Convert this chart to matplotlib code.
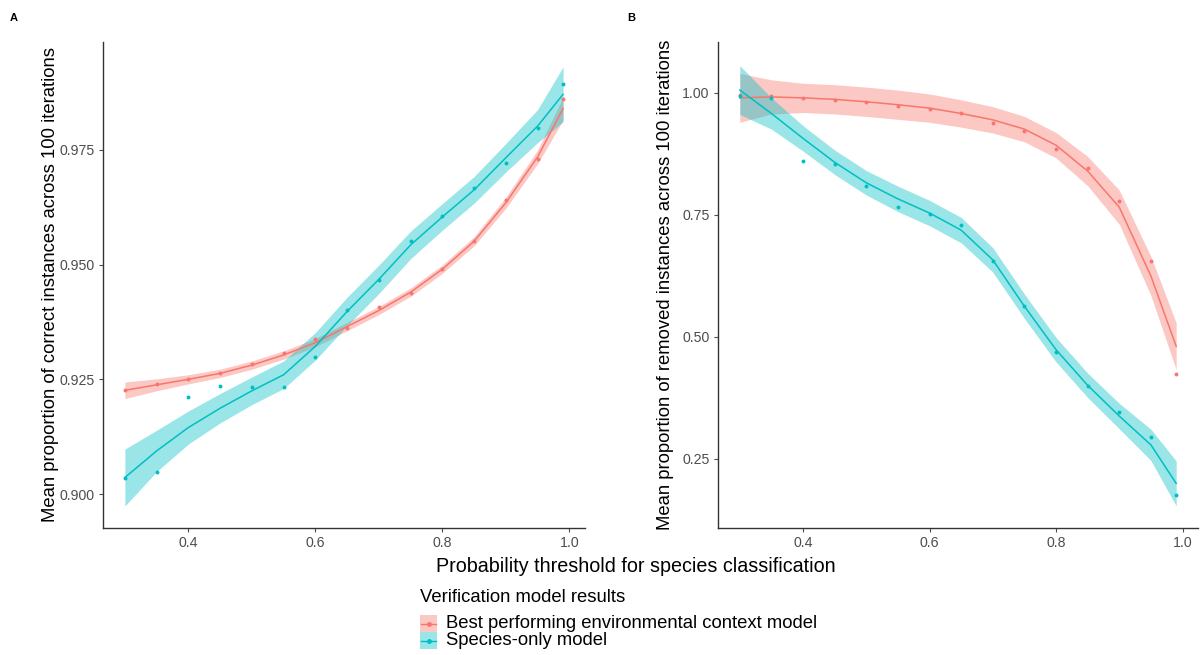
import numpy as np
import matplotlib
matplotlib.use("Agg")
import matplotlib.pyplot as plt
from matplotlib.patches import Rectangle
from matplotlib.lines import Line2D

plt.rcParams['font.family'] = ['Liberation Sans', 'DejaVu Sans']

RED = '#F8766D'
CYAN = '#00BFC4'

threshold = [0.30, 0.35, 0.40, 0.45, 0.50, 0.55, 0.60, 0.65, 0.70, 0.75, 0.80, 0.85, 0.90, 0.95, 0.99]

# panel A: mean proportion of correct instances
correct_env = [0.9226, 0.9239, 0.9250, 0.9264, 0.9283, 0.9308, 0.9337, 0.9361, 0.9407, 0.9438,
               0.9491, 0.9551, 0.9640, 0.9730, 0.9861]
correct_env_fit = [0.9226, 0.9238, 0.9250, 0.9263, 0.9281, 0.9303, 0.9330, 0.9365, 0.9400, 0.9440,
                   0.9490, 0.9551, 0.9635, 0.9735, 0.9840]
correct_env_se = [0.0018, 0.0013, 0.0010, 0.0009, 0.0009, 0.0009, 0.0009, 0.0009, 0.0009, 0.0009,
                  0.0009, 0.0010, 0.0012, 0.0015, 0.0025]
correct_sp = [0.9036, 0.9049, 0.9212, 0.9236, 0.9233, 0.9234, 0.9299, 0.9401, 0.9466, 0.9552,
              0.9605, 0.9667, 0.9721, 0.9797, 0.9894]
correct_sp_fit = [0.9036, 0.9094, 0.9145, 0.9187, 0.9225, 0.9260, 0.9322, 0.9398, 0.9468, 0.9543,
                  0.9604, 0.9663, 0.9733, 0.9802, 0.9871]
correct_sp_se = [0.0062, 0.0045, 0.0036, 0.0032, 0.0030, 0.0030, 0.0030, 0.0031, 0.0031, 0.0030,
                 0.0029, 0.0029, 0.0031, 0.0036, 0.0060]

# panel B: mean proportion of removed instances
removed_env = [0.995, 0.993, 0.990, 0.986, 0.981, 0.974, 0.967, 0.958, 0.938, 0.923,
               0.886, 0.847, 0.779, 0.655, 0.424]
removed_env_fit = [0.990, 0.992, 0.990, 0.987, 0.982, 0.976, 0.969, 0.958, 0.945, 0.926,
                   0.893, 0.840, 0.766, 0.625, 0.481]
removed_env_se = [0.050, 0.035, 0.030, 0.030, 0.030, 0.030, 0.029, 0.028, 0.027, 0.026,
                  0.026, 0.030, 0.035, 0.040, 0.048]
removed_sp = [0.993, 0.990, 0.860, 0.855, 0.810, 0.766, 0.752, 0.729, 0.656, 0.563,
              0.470, 0.399, 0.346, 0.295, 0.176]
removed_sp_fit = [1.006, 0.958, 0.907, 0.858, 0.816, 0.783, 0.754, 0.719, 0.658, 0.563,
                  0.474, 0.401, 0.338, 0.279, 0.200]
removed_sp_se = [0.050, 0.032, 0.026, 0.025, 0.025, 0.026, 0.026, 0.026, 0.025, 0.025,
                 0.025, 0.025, 0.026, 0.032, 0.046]

labels = ["Best performing environmental context model", "Species-only model"]

W, H = 1204, 655
fig = plt.figure(figsize=(W/100, H/100), dpi=100)
axA = fig.add_axes([103/W, 1-528/H, 482/W, 486/H])
axB = fig.add_axes([718/W, 1-528/H, 480/W, 486/H])

x = np.array(threshold)


def draw(ax, series):
    for pts, fit, se, col in series:
        fit = np.array(fit)
        se = np.array(se)
        ax.fill_between(x, fit - se, fit + se, color=col, alpha=0.4, linewidth=0)
        ax.plot(x, fit, color=col, linewidth=1.1)
        ax.scatter(x, pts, color=col, s=8, zorder=3, linewidths=0)
    ax.set_xlim(0.2655, 1.0245)
    ax.set_xticks([0.4, 0.6, 0.8, 1.0])
    ax.set_xticklabels(['0.4', '0.6', '0.8', '1.0'])
    for s in ['top', 'right']:
        ax.spines[s].set_visible(False)
    for s in ['left', 'bottom']:
        ax.spines[s].set_color('#333333')
        ax.spines[s].set_linewidth(1.0)
    ax.tick_params(colors='#4D4D4D', labelsize=10.2, length=3, width=0.8, pad=3)
    ax.yaxis.set_label_coords(-52/ax.get_position().width/W, 0.5)


draw(axA, [(correct_env, correct_env_fit, correct_env_se, RED),
           (correct_sp, correct_sp_fit, correct_sp_se, CYAN)])
axA.set_ylim(0.8926, 0.9985)
axA.set_yticks([0.900, 0.925, 0.950, 0.975])
axA.set_yticklabels(['0.900', '0.925', '0.950', '0.975'])
axA.set_ylabel("Mean proportion of correct instances across 100 iterations", fontsize=13.3, va='center')

draw(axB, [(removed_env, removed_env_fit, removed_env_se, RED),
           (removed_sp, removed_sp_fit, removed_sp_se, CYAN)])
axB.set_ylim(0.1086, 1.1045)
axB.set_yticks([0.25, 0.50, 0.75, 1.00])
axB.set_yticklabels(['0.25', '0.50', '0.75', '1.00'])
axB.set_ylabel("Mean proportion of removed instances across 100 iterations", fontsize=13.3, va='center')

fig.text(10/W, 1-18/H, "A", fontsize=8, fontweight='bold', va='center')
fig.text(627/W, 1-18/H, "B", fontsize=8, fontweight='bold', va='center')

fig.text(636/W, 1-567/H, "Probability threshold for species classification",
         fontsize=14.2, ha='center', va='center')

# legend drawn by hand: title, keys (ribbon + line + point) and labels
fig.text(420/W, 1-597/H, "Verification model results", fontsize=13.3, ha='left', va='center')
key_x, key_w, key_h, row0 = 420, 17, 17, 615
for i, (col, lab) in enumerate(zip([RED, CYAN], labels)):
    top = row0 + i * key_h
    fig.add_artist(Rectangle((key_x/W, 1-(top+key_h)/H), key_w/W, key_h/H,
                             transform=fig.transFigure, facecolor=col, alpha=0.4, edgecolor='none'))
    cy = 1-(top+key_h/2)/H
    fig.add_artist(Line2D([(key_x+1)/W, (key_x+key_w-1)/W], [cy, cy], transform=fig.transFigure,
                          color=col, linewidth=1.0))
    fig.add_artist(Line2D([(key_x+key_w/2)/W], [cy], transform=fig.transFigure, color=col,
                          marker='o', markersize=2.5, linestyle='none'))
    fig.text(446/W, cy, lab, fontsize=13.3, ha='left', va='center')

fig.savefig("out.png", dpi=100, facecolor='white')
